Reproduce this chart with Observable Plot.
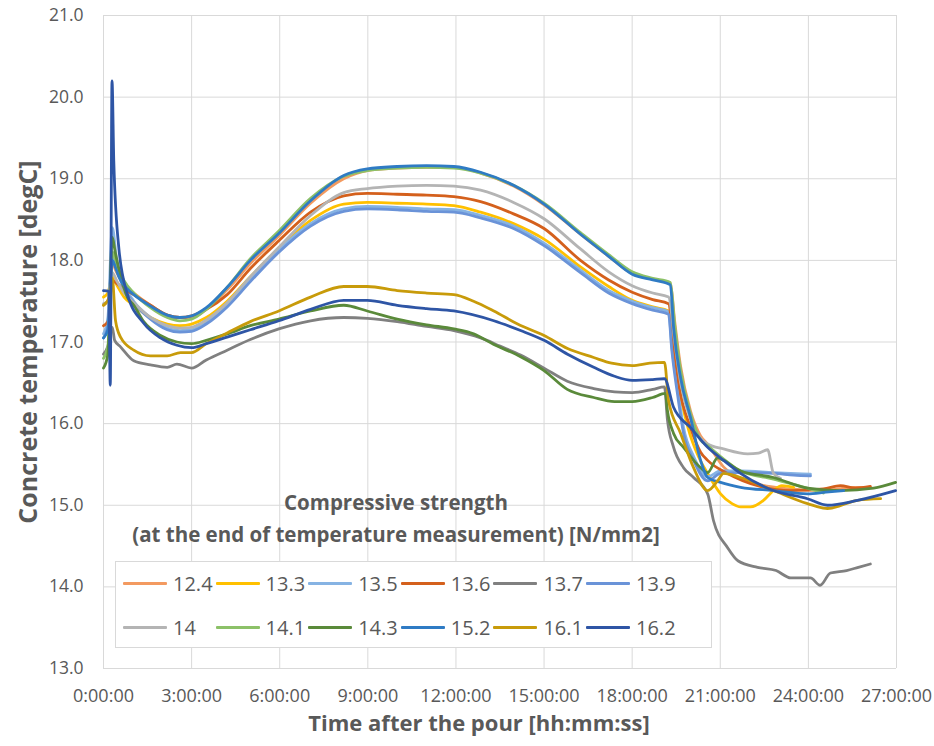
<!DOCTYPE html>
<html>
<head>
<meta charset="utf-8">
<script src="https://cdn.jsdelivr.net/npm/d3@7"></script>
<script src="https://cdn.jsdelivr.net/npm/@observablehq/plot@0.6"></script>
<style>
  body { margin: 0; background: #fff; }
  #wrap { position: relative; width: 934px; height: 746px; font-family: "Open Sans", sans-serif; color: #595959; }
  #ltitle { position: absolute; left: 96px; width: 600px; top: 486px; text-align: center; font-weight: bold; font-size: 20.5px; line-height: 32px; white-space: nowrap; }
  #legend { position: absolute; left: 115px; top: 561px; width: 595px; height: 85px; background: #fff; border: 1px solid #d9d9d9; }
  .item { position: absolute; display: flex; align-items: center; height: 30px; font-size: 20px; }
  .sw { width: 44px; height: 3px; margin-right: 6px; border-radius: 1px; }
</style>
</head>
<body>
<div id="wrap"></div>
<script>
// Compressive strength categories [N/mm2]
const strengths = ["12.4", "13.3", "13.5", "13.6", "13.7", "13.9", "14", "14.1", "14.3", "15.2", "16.1", "16.2"];
const colors = ["#F39A60", "#FFC000", "#86B3E3", "#D4601C", "#808080", "#6A93D8", "#B4B4B4", "#8CC168", "#5A8A3A", "#2F7BC4", "#C89B0A", "#2E55A5"];

// x tick values (hours after pour) and y tick values (degC)
const xTicks = [0, 3, 6, 9, 12, 15, 18, 21, 24, 27];
const yTicks = [13, 14, 15, 16, 17, 18, 19, 20, 21];

// series: [hours after pour, concrete temperature degC]
const s12_4 = [[0,17.45],[0.15,17.5],[0.3,17.95],[0.45,17.85],[0.7,17.7],[1.03,17.6],[1.6,17.45],[2.17,17.33],[2.6,17.3],[3,17.3],[3.5,17.4],[4.21,17.64],[5,17.96],[5.97,18.3],[7.05,18.7],[8.18,19.0],[8.98,19.1],[10,19.13],[11,19.14],[11.93,19.14],[12.84,19.07],[13.96,18.91],[15,18.68],[16.24,18.32],[17.2,18.05],[18,17.84],[18.7,17.77],[19.3,17.72],[19.45,17.25],[19.65,16.7],[19.99,16.15],[20.33,15.85],[20.57,15.75],[21.11,15.47],[21.7,15.33],[22.27,15.26],[23.39,15.2],[24.51,15.18],[25.5,15.22],[26.11,15.22]];
const s13_3 = [[0,17.55],[0.15,17.6],[0.3,17.8],[0.45,17.7],[0.7,17.55],[1.03,17.45],[1.6,17.3],[2.17,17.22],[2.6,17.2],[3,17.22],[3.5,17.3],[4.21,17.5],[5,17.8],[5.97,18.15],[7.05,18.49],[8.18,18.69],[8.98,18.71],[10,18.7],[11,18.69],[11.93,18.67],[12.84,18.59],[13.96,18.45],[15,18.26],[16.24,17.92],[17.2,17.68],[18,17.51],[18.7,17.43],[19.24,17.38],[19.4,16.95],[19.54,16.56],[19.9,15.95],[20.25,15.6],[20.57,15.39],[21.01,15.14],[21.4,15.02],[21.69,14.98],[22.03,14.98],[22.47,15.06],[22.81,15.18],[23.1,15.24],[23.5,15.22]];
const s13_5 = [[0,17.1],[0.15,17.3],[0.3,18.4],[0.45,18.0],[0.7,17.7],[1.03,17.5],[1.6,17.3],[2.17,17.17],[2.6,17.14],[3,17.15],[3.5,17.25],[4.21,17.46],[5,17.77],[5.97,18.13],[7.05,18.45],[8.18,18.63],[8.98,18.66],[10,18.65],[11,18.63],[11.93,18.62],[12.84,18.55],[13.96,18.42],[15,18.21],[16.24,17.88],[17.2,17.63],[18,17.5],[18.7,17.42],[19.24,17.37],[19.35,16.95],[19.54,16.45],[19.75,15.95],[20.09,15.6],[20.57,15.35],[21.01,15.42],[21.69,15.42],[22.81,15.4],[24.07,15.38]];
const s13_6 = [[0,17.2],[0.15,17.25],[0.3,17.75],[0.45,17.72],[0.7,17.65],[1.03,17.58],[1.6,17.45],[2.17,17.33],[2.6,17.3],[3,17.32],[3.5,17.4],[4.21,17.58],[5,17.9],[5.97,18.24],[7.05,18.59],[8.18,18.79],[8.98,18.82],[10,18.81],[11,18.8],[11.93,18.78],[12.84,18.72],[13.96,18.57],[15,18.39],[16.24,18.0],[17.2,17.76],[18,17.61],[18.7,17.52],[19.24,17.47],[19.4,17.0],[19.6,16.45],[19.99,15.95],[20.33,15.65],[20.57,15.55],[21.25,15.39],[22.27,15.24],[23.39,15.18],[24.51,15.2],[25.09,15.24],[25.6,15.21],[26.11,15.23]];
const s13_7 = [[0,16.85],[0.15,16.95],[0.3,17.18],[0.38,17.02],[0.58,16.94],[1.03,16.77],[1.6,16.72],[2.17,16.69],[2.5,16.73],[3,16.68],[3.5,16.78],[4.21,16.9],[5,17.03],[5.97,17.16],[7.05,17.26],[8.18,17.3],[8.98,17.29],[10,17.25],[11,17.19],[11.93,17.14],[12.84,17.05],[13.5,16.95],[14.2,16.84],[15,16.68],[15.79,16.52],[16.69,16.43],[17.4,16.39],[18,16.38],[18.7,16.42],[19.1,16.45],[19.2,16.05],[19.4,15.72],[19.75,15.46],[20.09,15.34],[20.57,15.14],[20.77,14.81],[21.25,14.48],[21.6,14.32],[22.27,14.24],[22.9,14.2],[23.4,14.11],[24.07,14.11],[24.4,14.02],[24.75,14.17],[25.3,14.2],[25.7,14.24],[26.11,14.28]];
const s13_9 = [[0,17.05],[0.15,17.2],[0.3,18.1],[0.45,17.9],[0.7,17.65],[1.03,17.48],[1.6,17.28],[2.17,17.15],[2.6,17.12],[3,17.13],[3.5,17.22],[4.21,17.43],[5,17.74],[5.97,18.1],[7.05,18.42],[8.18,18.6],[8.98,18.63],[10,18.62],[11,18.6],[11.93,18.59],[12.84,18.52],[13.96,18.39],[15,18.18],[16.24,17.85],[17.2,17.6],[18,17.47],[18.7,17.39],[19.24,17.34],[19.35,16.9],[19.54,16.37],[19.75,15.88],[20.09,15.55],[20.57,15.3],[21.01,15.39],[21.69,15.4],[22.81,15.39],[23.5,15.37],[24.07,15.36]];
const s14 = [[0,17.47],[0.15,17.5],[0.3,17.85],[0.45,17.75],[0.7,17.6],[1.03,17.48],[1.6,17.3],[2.17,17.2],[2.6,17.17],[3,17.18],[3.5,17.27],[4.21,17.48],[5,17.8],[5.97,18.16],[7.05,18.55],[8.18,18.83],[8.98,18.88],[10,18.91],[11,18.92],[11.93,18.91],[12.84,18.86],[13.96,18.71],[15,18.51],[16.24,18.14],[17.2,17.86],[18,17.69],[18.7,17.6],[19.24,17.55],[19.45,17.0],[19.65,16.5],[19.99,16.05],[20.33,15.82],[20.57,15.75],[21.11,15.69],[21.93,15.63],[22.3,15.64],[22.61,15.68],[22.81,15.39],[23.05,15.33]];
const s14_1 = [[0,16.8],[0.15,16.95],[0.3,18.1],[0.45,17.95],[0.7,17.75],[1.03,17.6],[1.6,17.42],[2.17,17.3],[2.6,17.26],[3,17.28],[3.5,17.4],[4.21,17.67],[5,18.02],[5.97,18.36],[7.05,18.76],[8.18,19.03],[8.98,19.1],[10,19.13],[11,19.14],[11.93,19.13],[12.84,19.07],[13.96,18.92],[15,18.7],[16.24,18.34],[17.2,18.07],[18,17.86],[18.7,17.78],[19.3,17.73],[19.45,17.2],[19.65,16.65],[19.99,16.12],[20.33,15.8],[20.57,15.73],[21,15.6],[21.69,15.42],[22.81,15.32],[23.97,15.21],[24.51,15.15]];
const s14_3 = [[0,16.68],[0.15,16.85],[0.3,18.28],[0.4,18.1],[0.52,17.9],[0.81,17.55],[1.03,17.45],[1.37,17.25],[1.94,17.08],[2.5,17.0],[3,16.98],[3.5,17.02],[4.21,17.1],[5,17.2],[5.97,17.28],[7.05,17.38],[8.18,17.45],[8.98,17.38],[10,17.28],[11,17.21],[11.93,17.16],[12.6,17.1],[13.29,16.97],[14.2,16.82],[15,16.65],[15.79,16.42],[16.69,16.32],[17.4,16.27],[18,16.27],[18.7,16.32],[19.13,16.37],[19.2,16.16],[19.41,15.88],[19.75,15.71],[20.33,15.46],[20.57,15.4],[20.91,15.58],[21.11,15.55],[21.69,15.42],[22.81,15.34],[23.97,15.21],[25.09,15.18],[26.22,15.21],[26.97,15.28]];
const s15_2 = [[0,17.05],[0.15,17.15],[0.3,18.0],[0.4,17.92],[0.52,17.8],[0.81,17.65],[1.03,17.58],[1.6,17.44],[2.17,17.33],[2.6,17.3],[3,17.32],[3.5,17.42],[4.21,17.67],[5,18.0],[5.97,18.33],[7.05,18.73],[8.18,19.04],[8.98,19.12],[10,19.15],[11,19.16],[11.93,19.15],[12.84,19.08],[13.96,18.92],[15,18.69],[16.24,18.32],[17.2,18.05],[18,17.83],[18.7,17.76],[19.3,17.7],[19.41,17.18],[19.65,16.56],[19.99,16.07],[20.33,15.55],[20.57,15.34],[21.01,15.28],[21.69,15.22],[22.81,15.18],[23.97,15.14],[24.6,15.16],[25.2,15.18]];
const s16_1 = [[0,17.45],[0.2,17.55],[0.3,17.78],[0.41,17.26],[0.58,17.06],[1.03,16.9],[1.6,16.83],[2.17,16.83],[2.62,16.87],[3,16.87],[3.5,16.98],[4.21,17.11],[5,17.25],[5.97,17.38],[7.05,17.55],[8.18,17.68],[8.98,17.68],[10,17.63],[11,17.6],[11.93,17.58],[12.6,17.5],[13.29,17.38],[14.1,17.22],[15,17.08],[15.8,16.92],[16.69,16.81],[17.3,16.74],[18,16.71],[18.6,16.74],[19.1,16.75],[19.24,16.28],[19.65,15.88],[20.09,15.46],[20.57,15.18],[20.91,15.3],[21.11,15.39],[21.69,15.34],[22.81,15.18],[23.97,15.02],[24.65,14.96],[25.67,15.06],[26.46,15.08]];
const s16_2 = [[0,17.63],[0.18,17.62],[0.23,16.47],[0.29,20.2],[0.35,19.22],[0.52,18.16],[0.81,17.59],[1.37,17.23],[1.94,17.05],[2.5,16.96],[3,16.93],[3.5,16.98],[4.21,17.06],[5,17.15],[5.97,17.26],[7.05,17.4],[8.18,17.51],[8.98,17.51],[10,17.45],[11,17.41],[11.93,17.38],[13.29,17.26],[14.2,17.14],[15,17.02],[15.8,16.85],[16.69,16.69],[17.4,16.58],[18,16.53],[18.7,16.54],[19.1,16.55],[19.41,16.2],[19.99,15.95],[20.57,15.71],[21.11,15.55],[21.69,15.39],[22.81,15.18],[23.97,15.08],[24.65,15.0],[25.67,15.06],[26.97,15.18]];

const seriesList = [s12_4, s13_3, s13_5, s13_6, s13_7, s13_9, s14, s14_1, s14_3, s15_2, s16_1, s16_2];
const data = strengths.flatMap((s, i) => seriesList[i].map(([h, t]) => ({h, t, s})));

const yTitle = "Concrete temperature [degC]";
const xTitle = "Time after the pour [hh:mm:ss]";
const legendTitle1 = "Compressive strength";
const legendTitle2 = "(at the end of temperature measurement) [N/mm2]";

const chart = Plot.plot({
  width: 934,
  height: 746,
  marginLeft: 103,
  marginRight: 38,
  marginTop: 15,
  marginBottom: 78,
  style: {fontFamily: "'Open Sans', sans-serif", color: "#595959", background: "#fff", overflow: "visible"},
  x: {domain: [0, 27]},
  y: {domain: [13, 21]},
  color: {domain: strengths, range: colors},
  marks: [
    Plot.gridX(xTicks, {stroke: "#d9d9d9", strokeOpacity: 1, strokeWidth: 1}),
    Plot.gridY(yTicks, {stroke: "#d9d9d9", strokeOpacity: 1, strokeWidth: 1}),
    Plot.axisX(xTicks, {tickSize: 0, tickPadding: 21, fontSize: 18, fill: "#595959", tickFormat: d => `${d}:00:00`, label: null}),
    Plot.axisY(yTicks, {tickSize: 0, tickPadding: 20, fontSize: 17.5, fill: "#595959", tickFormat: d => d.toFixed(1), label: null}),
    Plot.line(data, {x: "h", y: "t", z: "s", stroke: "s", strokeWidth: 2.8, curve: "monotone-x"}),
    Plot.text([yTitle], {text: d => d, frameAnchor: "left", textAnchor: "middle", dx: -75, rotate: -90, fontSize: 25, fontWeight: "bold", fill: "#595959"}),
    Plot.text([xTitle], {text: d => d, frameAnchor: "bottom", dx: -21, dy: 62, fontSize: 22, fontWeight: "bold", fill: "#595959"})
  ]
});

const wrap = document.getElementById("wrap");
wrap.appendChild(chart);

const lt = document.createElement("div");
lt.id = "ltitle";
lt.innerHTML = `<div>${legendTitle1}</div><div>${legendTitle2}</div>`;
wrap.appendChild(lt);

const lg = document.createElement("div");
lg.id = "legend";
strengths.forEach((s, i) => {
  const col = i % 6, row = Math.floor(i / 6);
  const it = document.createElement("div");
  it.className = "item";
  it.style.left = (7 + col * 92.6) + "px";
  it.style.top = (6 + row * 44) + "px";
  it.innerHTML = `<span class="sw" style="background:${colors[i]}"></span><span>${s}</span>`;
  lg.appendChild(it);
});
wrap.appendChild(lg);
</script>
</body>
</html>
